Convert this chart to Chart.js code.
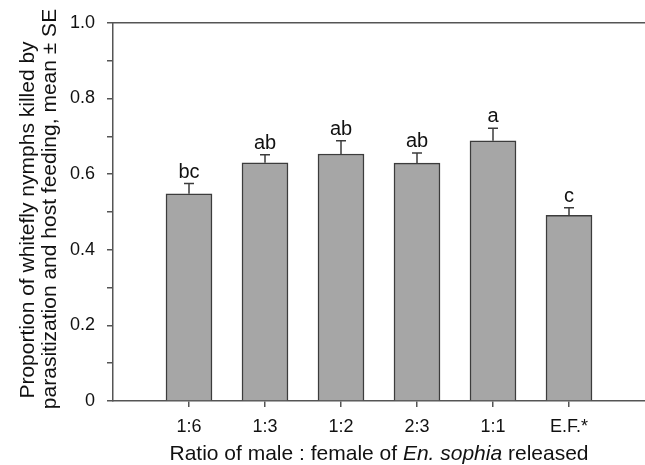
<!DOCTYPE html>
<html>
<head>
<meta charset="utf-8">
<script src="https://cdn.jsdelivr.net/npm/chart.js@4.4.1/dist/chart.umd.min.js"></script>
<style>
  html, body { margin: 0; padding: 0; background: #fff; overflow: hidden; }
  #wrap { width: 645px; height: 465px; position: relative; }
</style>
</head>
<body>
<div id="wrap"><canvas id="chart"></canvas></div>
<script>
// Data
const categories = ['1:6', '1:3', '1:2', '2:3', '1:1', 'E.F.*'];
const meanValues = [0.548, 0.630, 0.653, 0.629, 0.688, 0.491];
const seValues = [0.027, 0.021, 0.035, 0.027, 0.033, 0.020];
const letters = ['bc', 'ab', 'ab', 'ab', 'a', 'c'];
const yTickLabels = ['0', '0.2', '0.4', '0.6', '0.8', '1.0'];

const FONT = "'Liberation Sans', Arial, sans-serif";
const AXIS_COLOR = '#555555';
const BAR_EDGE = '#3c3c3c';

// Frame line, error bars, letters and axis titles
const annotations = {
    id: 'annotations',
    afterDatasetsDraw(chart) {
        const ctx = chart.ctx;
        const area = chart.chartArea;
        const x = chart.scales.x;
        const y = chart.scales.y;

        ctx.save();
        // top frame line
        ctx.strokeStyle = AXIS_COLOR;
        ctx.lineWidth = 1.5;
        ctx.beginPath();
        ctx.moveTo(area.left, area.top);
        ctx.lineTo(area.right, area.top);
        ctx.stroke();

        // error bars (upper half only) and significance letters
        ctx.strokeStyle = BAR_EDGE;
        ctx.lineWidth = 1.5;
        ctx.fillStyle = '#111';
        ctx.font = '20px ' + FONT;
        ctx.textAlign = 'center';
        ctx.textBaseline = 'alphabetic';
        meanValues.forEach((v, i) => {
            const px = x.getPixelForValue(i + 1);
            const yTop = y.getPixelForValue(v);
            const yErr = y.getPixelForValue(v + seValues[i]);
            ctx.beginPath();
            ctx.moveTo(px, yTop);
            ctx.lineTo(px, yErr);
            ctx.moveTo(px - 5, yErr);
            ctx.lineTo(px + 5, yErr);
            ctx.stroke();
            ctx.fillText(letters[i], px, yErr - 6);
        });

        // x axis title with italic species name
        const parts = [
            { text: 'Ratio of male : female of ', style: '' },
            { text: 'En. sophia', style: 'italic ' },
            { text: ' released', style: '' }
        ];
        const titleSize = '21px ';
        let total = 0;
        parts.forEach(p => {
            ctx.font = p.style + titleSize + FONT;
            p.w = ctx.measureText(p.text).width;
            total += p.w;
        });
        let cx = (area.left + area.right) / 2 - total / 2;
        ctx.textAlign = 'left';
        parts.forEach(p => {
            ctx.font = p.style + titleSize + FONT;
            ctx.fillText(p.text, cx, 460);
            cx += p.w;
        });

        // y axis title, two lines
        ctx.font = titleSize + FONT;
        ctx.textAlign = 'center';
        ctx.textBaseline = 'alphabetic';
        ctx.rotate(-Math.PI / 2);
        ctx.fillText('Proportion of whitefly nymphs killed by', -220, 33.5);
        ctx.fillText('parasitization and host feeding, mean \u00b1 SE', -209, 56);
        ctx.restore();
    }
};

const ctx = document.getElementById('chart').getContext('2d');
new Chart(ctx, {
    type: 'bar',
    data: {
        datasets: [{
            data: meanValues.map((v, i) => ({ x: i + 1, y: v })),
            backgroundColor: '#a6a6a6',
            borderColor: BAR_EDGE,
            borderWidth: 1.5,
            barThickness: 46
        }]
    },
    options: {
        responsive: true,
        maintainAspectRatio: false,
        animation: false,
        layout: { padding: { top: 19, right: 0, left: 0, bottom: 0 } },
        plugins: {
            legend: { display: false },
            tooltip: { enabled: false }
        },
        scales: {
            x: {
                type: 'linear',
                min: 0,
                max: 7,
                offset: false,
                afterBuildTicks: scale => {
                    scale.ticks = categories.map((c, i) => ({ value: i + 1 }));
                },
                afterFit: scale => { scale.height = 64; },
                grid: {
                    offset: false,
                    drawOnChartArea: false,
                    drawTicks: true,
                    tickLength: 6,
                    color: AXIS_COLOR,
                    lineWidth: 1.5
                },
                border: { display: true, color: AXIS_COLOR, width: 1.5 },
                ticks: {
                    autoSkip: false,
                    maxRotation: 0,
                    padding: 9,
                    color: '#111',
                    font: { family: FONT, size: 18 },
                    callback: value => categories[value - 1]
                }
            },
            y: {
                min: 0,
                max: 1,
                afterFit: scale => { scale.width = 113; },
                grid: {
                    drawOnChartArea: false,
                    drawTicks: true,
                    tickLength: 6,
                    color: AXIS_COLOR,
                    lineWidth: 1.5
                },
                border: { display: true, color: AXIS_COLOR, width: 1.5 },
                ticks: {
                    stepSize: 0.1,
                    padding: 12,
                    color: '#111',
                    font: { family: FONT, size: 18 },
                    callback: (value, index) => index % 2 === 0 ? yTickLabels[index / 2] : ''
                }
            }
        }
    },
    plugins: [annotations]
});
</script>
</body>
</html>
